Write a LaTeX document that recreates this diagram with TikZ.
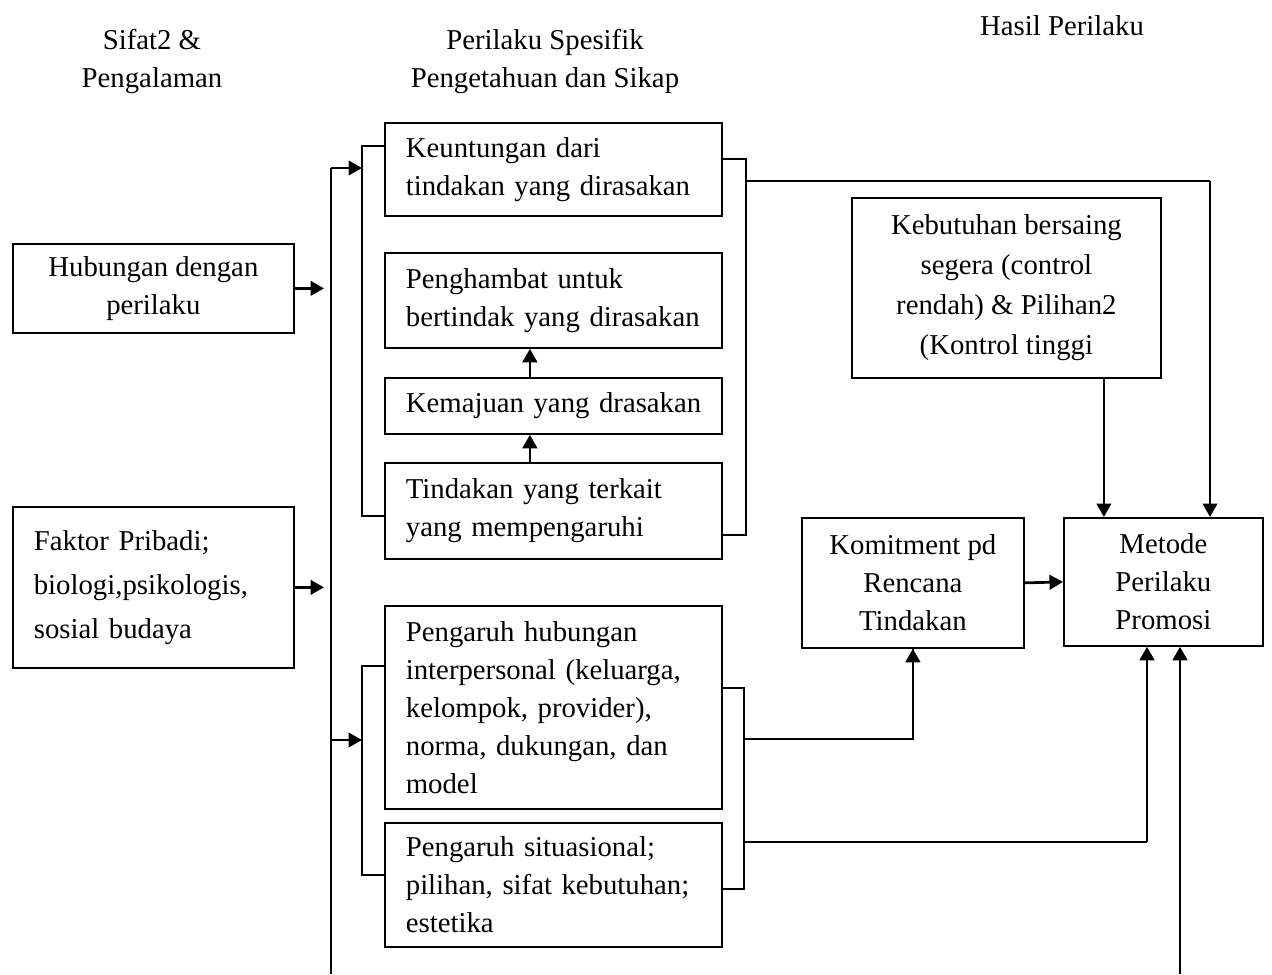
\documentclass[tikz,border=0pt]{standalone}
\usepackage{fontspec}
\setmainfont{Liberation Serif}
\usetikzlibrary{arrows.meta}
\begin{document}
\begin{tikzpicture}[x=0.4pt,y=-0.4pt,
  every node/.style={font=\fontsize{11.5}{15.2}\selectfont},
  box/.style={draw, line width=0.7pt, inner sep=0pt, anchor=north west},
  lbox/.style={box, align=left, inner xsep=8.4pt},
  cbox/.style={box, align=center},
  link/.style={line width=0.8pt},
  arr/.style={line width=1.1pt, -{Triangle[length=5.4pt,width=5.8pt]}}
]
\fill[white] (0,0) rectangle (1272,974);
\useasboundingbox (0,0) rectangle (1272,974);

% column headings
\node[align=center] (hdA) at (152,61) {Sifat2 \&\\Pengalaman};
\node[align=center] (hdB) at (545,61) {Perilaku Spesifik\\Pengetahuan dan Sikap};
\node (hdC) at (1062,26) {Hasil Perilaku};

% left column
\node[cbox, minimum width=112.4pt, minimum height=35.6pt] (hub) at (12,243)
  {Hubungan dengan\\perilaku};
\node[lbox, minimum width=112.4pt, text width=95.6pt, minimum height=64.4pt,
      font=\fontsize{11.5}{17.6}\selectfont] (fak) at (12,506)
  {\mbox{Faktor Pribadi;}\\\mbox{biologi,psikologis,}\\\mbox{sosial budaya}};

% middle column
\node[lbox, minimum width=134.8pt, text width=118pt, minimum height=37.2pt] (keu) at (384,122)
  {\mbox{Keuntungan dari}\\\mbox{tindakan yang dirasakan}};
\node[lbox, minimum width=134.8pt, text width=118pt, minimum height=38pt] (pgh) at (384,252)
  {\mbox{Penghambat untuk}\\\mbox{bertindak yang dirasakan}};
\node[lbox, minimum width=134.8pt, text width=118pt, minimum height=22.4pt] (kmj) at (384,377)
  {\mbox{Kemajuan yang drasakan}};
\node[lbox, minimum width=134.8pt, text width=118pt, minimum height=38.4pt] (tdk) at (384,462)
  {\mbox{Tindakan yang terkait}\\\mbox{yang mempengaruhi}};
\node[lbox, minimum width=134.8pt, text width=118pt, minimum height=81.2pt] (phi) at (384,605)
  {\mbox{Pengaruh hubungan}\\\mbox{interpersonal (keluarga,}\\\mbox{kelompok, provider),}\\\mbox{norma, dukungan, dan}\\\mbox{model}};
\node[lbox, minimum width=134.8pt, text width=118pt, minimum height=49.6pt] (psi) at (384,822)
  {\mbox{Pengaruh situasional;}\\\mbox{pilihan, sifat kebutuhan;}\\\mbox{estetika}};

% right column
\node[cbox, minimum width=123.6pt, minimum height=72pt,
      font=\fontsize{11.5}{16}\selectfont] (keb) at (851,197)
  {Kebutuhan bersaing\\segera (control\\rendah) \& Pilihan2\\(Kontrol tinggi};
\node[cbox, minimum width=88.8pt, minimum height=52pt] (kom) at (801,517)
  {Komitment pd\\Rencana\\Tindakan};
\node[cbox, minimum width=79.6pt, minimum height=51.2pt] (met) at (1063,517)
  {Metode\\Perilaku\\Promosi};

% bracket and spine points
\coordinate (spT) at (331,168);
\coordinate (spB) at (331,974);
\coordinate (ul1) at (362,146);
\coordinate (ul2) at (362,516);
\coordinate (ll1) at (362,666);
\coordinate (ll2) at (362,875);
\coordinate (llA) at (362,740);
\coordinate (ur1) at (746,159);
\coordinate (ur2) at (746,535);
\coordinate (urA) at (746,181);
\coordinate (lr1) at (744,688);
\coordinate (lr2) at (744,889);
\coordinate (lrA) at (744,739);
\coordinate (lrB) at (744,842);
\coordinate (topR) at (1210,181);
\coordinate (botR) at (1180,974);

% spine feeding the middle column
\draw[link] (spT) -- (spB);
\draw[arr] (spT) -- (spT -| ul1);
\draw[arr] (llA -| spT) -- (llA);
\draw[arr, shorten >=2.8pt] (hub.east) -- (hub.east -| spT);
\draw[arr, shorten >=2.8pt] (fak.east) -- (fak.east -| spT);

% left brackets
\draw[link] (ul1 -| keu.west) -- (ul1) -- (ul2) -- (ul2 -| tdk.west);
\draw[link] (ll1 -| phi.west) -- (ll1) -- (ll2) -- (ll2 -| psi.west);

% chain inside the upper group
\draw[arr] ([xshift=-9.4pt]kmj.north) -- ([xshift=-9.4pt]kmj.north |- pgh.south);
\draw[arr] ([xshift=-9.4pt]tdk.north) -- ([xshift=-9.4pt]tdk.north |- kmj.south);

% right brackets
\draw[link] (ur1 -| keu.east) -- (ur1) -- (ur2) -- (ur2 -| tdk.east);
\draw[link] (lr1 -| phi.east) -- (lr1) -- (lr2) -- (lr2 -| psi.east);

% outcome connectors
\draw[link] (urA) -- (topR);
\draw[arr] (topR) -- (topR |- met.north);
\draw[arr] ([xshift=39pt]keb.south) -- ([xshift=39pt]keb.south |- met.north);
\draw[link] (lrA) -| (kom.south);
\draw[arr] (lrA -| kom.south) -- (kom.south);
\draw[link] (lrB) -- (lrB -| 1147,0);
\draw[arr] (lrB -| 1147,0) -- (met.south -| 1147,0);
\draw[arr] (botR) -- (botR |- met.south);
\draw[arr] (kom.east) -- (met.west);
\end{tikzpicture}
\end{document}
